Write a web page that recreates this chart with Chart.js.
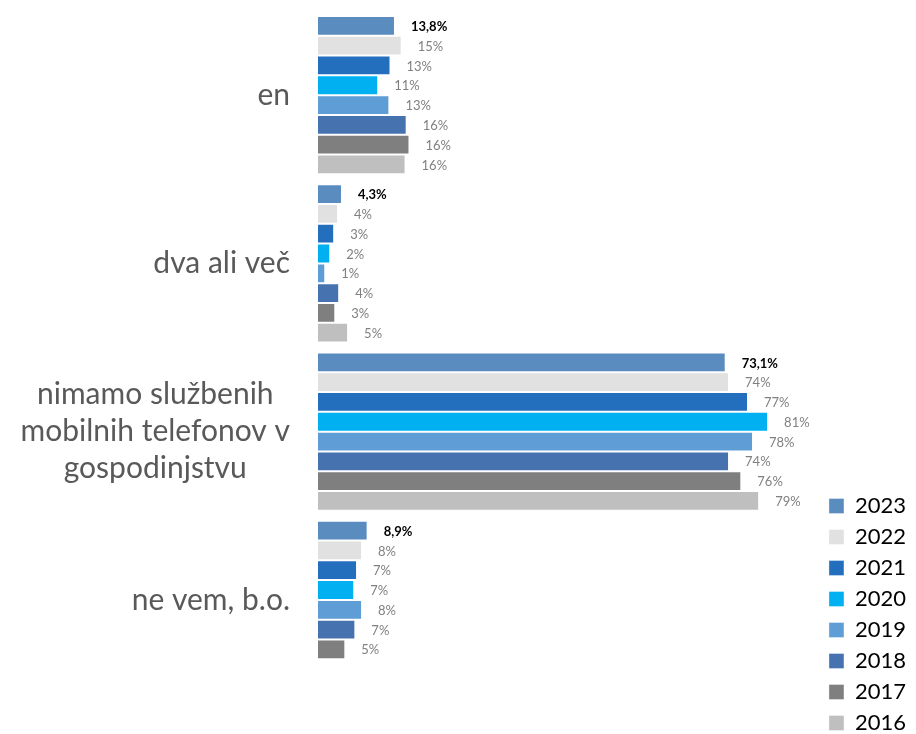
<!DOCTYPE html>
<html>
<head>
<meta charset="utf-8">
<style>
  html, body { margin: 0; padding: 0; background: #fff; }
  #wrap { width: 916px; height: 734px; }
</style>
</head>
<body>
<div id="wrap"><canvas id="myChart" width="916" height="734"></canvas></div>
<script src="https://cdn.jsdelivr.net/npm/chart.js@4.4.1/dist/chart.umd.min.js"></script>
<script>
  // categories (y axis), multi-line where the original wraps
  const categories = [
      'en',
      'dva ali več',
      ['nimamo službenih', 'mobilnih telefonov v', 'gospodinjstvu'],
      'ne vem, b.o.'
  ]
  const years = ['2023', '2022', '2021', '2020', '2019', '2018', '2017', '2016']

  // values in %, one array per year
  const v2023 = [13.8, 4.3, 73.1, 8.9]
  const v2022 = [15.0, 3.6, 73.7, 7.9]
  const v2021 = [13.0, 2.9, 77.1, 7.0]
  const v2020 = [10.8, 2.2, 80.7, 6.5]
  const v2019 = [12.8, 1.3, 78.0, 7.9]
  const v2018 = [15.9, 3.8, 73.7, 6.7]
  const v2017 = [16.4, 3.1, 75.9, 4.9]
  const v2016 = [15.7, 5.4, 79.1, null]

  const colors = ['#5B8CC0', '#E1E1E1', '#236FBD', '#00B0F0', '#5E9DD6', '#4673B0', '#7F7F7F', '#BFBFBF']
  const series = [v2023, v2022, v2021, v2020, v2019, v2018, v2017, v2016]

  const datasets = series.map(function (vals, i) {
      return {
          label: years[i],
          data: vals,
          backgroundColor: colors[i],
          borderColor: 'rgba(255,255,255,0.35)',
          borderWidth: 1,
          barPercentage: 1.0,
          categoryPercentage: 0.94
      }
  })

  // value labels to the right of each bar
  const valueLabels = {
      id: 'valueLabels',
      afterDatasetsDraw(chart) {
          const ctx = chart.ctx
          ctx.save()
          ctx.textBaseline = 'middle'
          ctx.textAlign = 'left'
          chart.data.datasets.forEach(function (ds, i) {
              const meta = chart.getDatasetMeta(i)
              meta.data.forEach(function (bar, j) {
                  const v = ds.data[j]
                  if (v == null) return
                  let txt
                  if (i == 0) {
                      ctx.font = 'bold 13px Lato'
                      ctx.fillStyle = '#000000'
                      txt = v.toFixed(1).replace('.', ',') + '%'
                  } else {
                      ctx.font = '13px Lato'
                      ctx.fillStyle = '#808080'
                      txt = Math.round(v) + '%'
                  }
                  ctx.fillText(txt, bar.x + 16, bar.y + 1)
              })
          })
          ctx.restore()
      }
  }

  // category labels: block right aligned, lines centred inside the block (like Excel)
  const categoryLabels = {
      id: 'categoryLabels',
      afterDraw(chart) {
          const ctx = chart.ctx
          const yScale = chart.scales.y
          const lineH = 37
          ctx.save()
          ctx.font = '30px Lato'
          ctx.fillStyle = '#595959'
          ctx.textAlign = 'center'
          ctx.textBaseline = 'middle'
          categories.forEach(function (lab, i) {
              const lines = Array.isArray(lab) ? lab : [lab]
              let w = 0
              lines.forEach(function (l) { w = Math.max(w, ctx.measureText(l).width) })
              const cx = yScale.right - 28 - w / 2
              const cy = yScale.getPixelForTick(i)
              lines.forEach(function (l, k) {
                  ctx.fillText(l, cx, cy + (k - (lines.length - 1) / 2) * lineH)
              })
          })
          ctx.restore()
      }
  }

  const ctx = document.getElementById('myChart').getContext('2d')
  const chart = new Chart(ctx, {
      type: 'bar',
      data: {
          labels: categories,
          datasets: datasets
      },
      plugins: [valueLabels, categoryLabels],
      options: {
          indexAxis: 'y',
          responsive: false,
          animation: false,
          layout: {
              padding: { top: 11, bottom: -9, left: 0, right: 0 }
          },
          scales: {
              x: {
                  display: true,
                  min: 0,
                  max: 90,
                  grid: { display: false },
                  border: { display: false },
                  ticks: { display: false },
                  afterFit(scale) {
                      scale.height = 59
                  }
              },
              y: {
                  grid: { display: false },
                  border: { display: false },
                  ticks: { display: false },
                  afterFit(scale) {
                      scale.width = 318
                      scale.paddingTop = 0
                      scale.paddingBottom = 0
                  }
              }
          },
          plugins: {
              legend: {
                  position: 'right',
                  align: 'end',
                  labels: {
                      color: '#000000',
                      font: { family: 'Lato', size: 22 },
                      boxWidth: 15,
                      boxHeight: 15,
                      padding: 9
                  }
              },
              tooltip: { enabled: false }
          }
      }
  })
</script>
</body>
</html>
